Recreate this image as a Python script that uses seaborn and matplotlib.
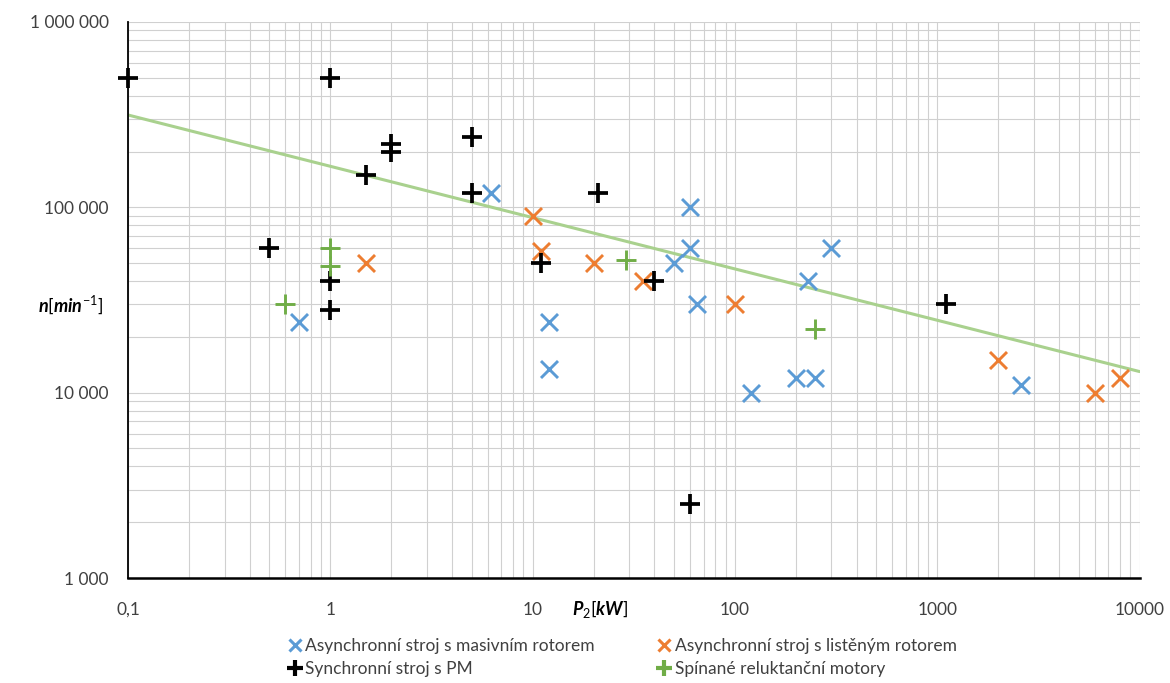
import numpy as np
import pandas as pd
import matplotlib
matplotlib.use("Agg")
import matplotlib.pyplot as plt
import matplotlib.ticker as mtick
from matplotlib.lines import Line2D
import seaborn as sns

# --- data (P2 in kW, n in min^-1) ---
masiv_p = [0.7, 6.2, 12, 12, 60, 60, 65, 50, 120, 200, 250, 230, 300, 2600]
masiv_n = [24000, 120000, 24000, 13500, 100000, 60000, 30000, 50000, 10000, 12000, 12000, 40000, 60000, 11000]

listeny_p = [1.5, 10, 11, 20, 35, 100, 2000, 6000, 8000]
listeny_n = [50000, 90000, 58000, 50000, 40000, 30000, 15000, 10000, 12000]

pm_p = [0.1, 1, 0.5, 1, 1, 1.5, 2, 2, 5, 5, 21, 11, 40, 60, 1100]
pm_n = [500000, 500000, 60000, 40000, 28000, 150000, 220000, 200000, 240000, 120000, 120000, 50000, 40000, 2500, 30000]

srm_p = [0.6, 1, 1, 29, 250]
srm_n = [30000, 60000, 48000, 52000, 22000]

# power trendline, end points
trend_p = [0.1, 10000]
trend_n = [315000, 13000]

labels = ["Asynchronní stroj s masivním rotorem", "Asynchronní stroj s listěným rotorem",
          "Synchronní stroj s PM", "Spínané reluktanční motory"]
colors = ["#5B9BD5", "#ED7D31", "#000000", "#70AD47"]

df = pd.concat([
    pd.DataFrame({"P": masiv_p, "n": masiv_n, "series": labels[0]}),
    pd.DataFrame({"P": listeny_p, "n": listeny_n, "series": labels[1]}),
    pd.DataFrame({"P": pm_p, "n": pm_n, "series": labels[2]}),
    pd.DataFrame({"P": srm_p, "n": srm_n, "series": labels[3]}),
])

sns.set_style("white")
plt.rcParams["font.family"] = ["Lato", "DejaVu Sans"]
plt.rcParams["mathtext.fontset"] = "custom"
plt.rcParams["mathtext.rm"] = "Lato"
plt.rcParams["mathtext.it"] = "Lato:italic:bold"

fig = plt.figure(figsize=(11.7, 6.83), dpi=100)
ax = fig.add_axes([0.1094, 0.1537, 0.8646, 0.8141])
ax.set_xscale("log")
ax.set_yscale("log")
ax.set_xlim(0.1, 10000)
ax.set_ylim(1000, 1000000)

ax.grid(True, which="both", color="#D0D0D0", lw=0.8)
ax.set_axisbelow(True)

sns.lineplot(x=trend_p, y=trend_n, color="#A9D18E", lw=2.2, ax=ax, zorder=2)

styles = {
    labels[0]: dict(marker="x", s=150, linewidth=2.1),
    labels[1]: dict(marker="x", s=150, linewidth=2.1),
    labels[2]: dict(marker="+", s=220, linewidth=2.7),
    labels[3]: dict(marker="+", s=220, linewidth=2.1),
}
for lab, col in zip(labels, colors):
    sub = df[df["series"] == lab]
    sns.scatterplot(data=sub, x="P", y="n", color=col, ax=ax, zorder=3,
                    legend=False, clip_on=False, **styles[lab])

for side in ["top", "right"]:
    ax.spines[side].set_visible(False)
ax.spines["left"].set_color("black")
ax.spines["left"].set_linewidth(1.3)
ax.spines["bottom"].set_color("black")
ax.spines["bottom"].set_linewidth(1.8)

ax.yaxis.set_major_formatter(mtick.FuncFormatter(lambda v, p: f"{int(round(v)):,}".replace(",", " ")))
ax.xaxis.set_major_formatter(mtick.FuncFormatter(lambda v, p: f"{v:g}".replace(".", ",")))
ax.yaxis.set_minor_formatter(mtick.NullFormatter())
ax.xaxis.set_minor_formatter(mtick.NullFormatter())
ax.tick_params(axis="both", which="both", length=0, labelsize=12.5, colors="#404040")
ax.tick_params(axis="x", pad=17)
ax.tick_params(axis="y", pad=14)

ax.set_xlabel(r"$P_2[kW]$", fontsize=13, color="black")
ax.xaxis.set_label_coords(0.467, -0.055)
ax.xaxis.label.set_va("center")
ax.set_ylabel(r"$n[min^{-1}]$", fontsize=13, rotation=0, color="black")
ax.yaxis.set_label_coords(-0.057, 0.491)
ax.yaxis.label.set_va("center")

handles = [
    Line2D([], [], ls="none", marker="x", color=colors[0], ms=9, mew=2.2),
    Line2D([], [], ls="none", marker="x", color=colors[1], ms=9, mew=2.2),
    Line2D([], [], ls="none", marker="+", color=colors[2], ms=11, mew=3),
    Line2D([], [], ls="none", marker="+", color=colors[3], ms=11, mew=3),
]
order = [0, 2, 1, 3]
fig.legend([handles[i] for i in order], [labels[i] for i in order], ncol=2,
           loc="lower center", bbox_to_anchor=(0.532, -0.014), frameon=False,
           fontsize=12.5, handlelength=0.8, handletextpad=0.2, columnspacing=3.6,
           labelspacing=0.4, labelcolor="#404040")

fig.savefig("out.png", dpi=100)
